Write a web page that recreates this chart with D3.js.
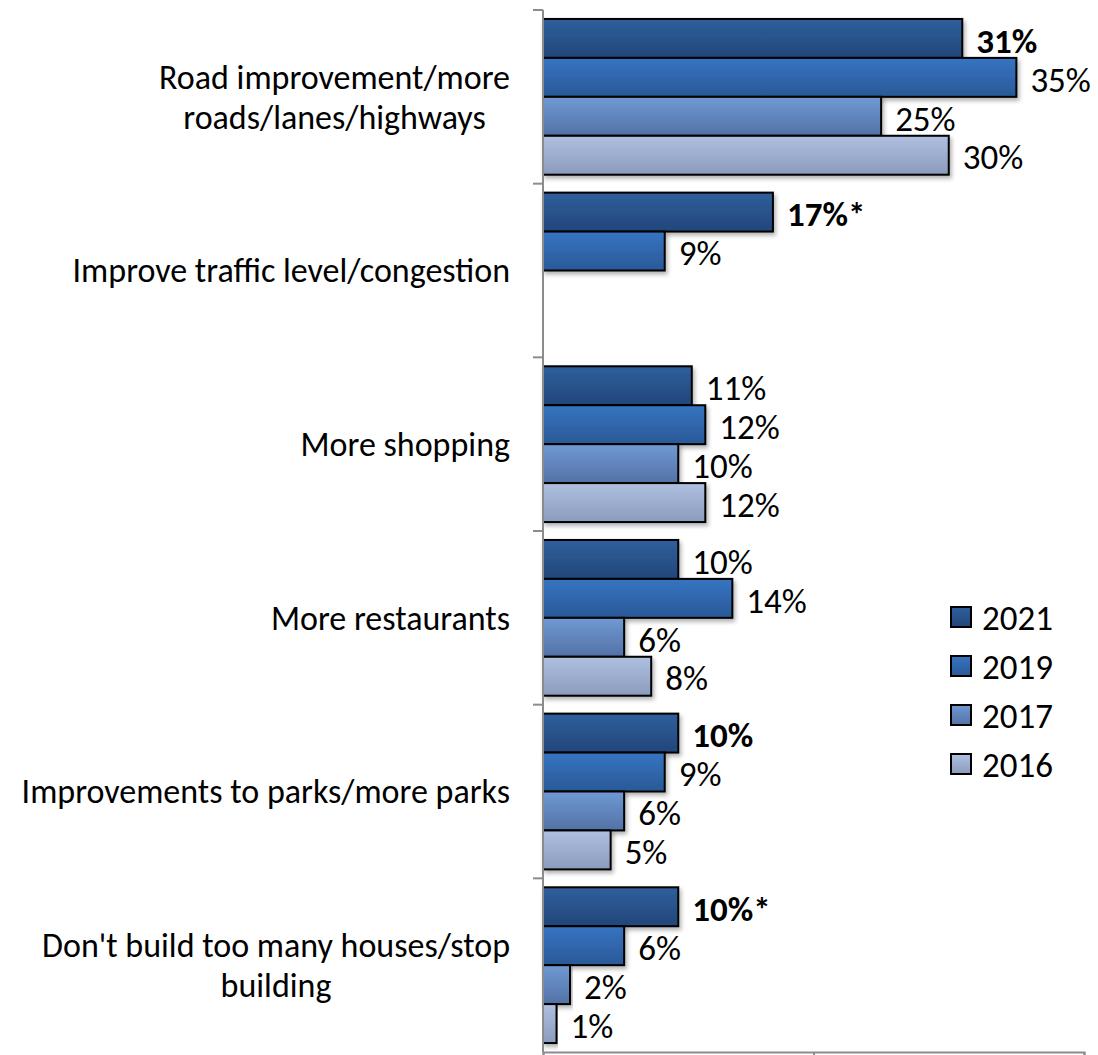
<!DOCTYPE html>
<html>
<head>
<meta charset="utf-8">
<script src="https://cdn.jsdelivr.net/npm/d3@7"></script>
<style>
  body { margin: 0; background: #fff; }
  text { font-family: Calibri, Carlito, Lato, sans-serif; fill: #000; }
</style>
</head>
<body>
<div id="chart"></div>
<script>
const categories = [
  ["Road improvement/more", "roads/lanes/highways"],
  ["Improve traffic level/congestion"],
  ["More shopping"],
  ["More restaurants"],
  ["Improvements to parks/more parks"],
  ["Don't build too many houses/stop", "building"]
];
const series = ["2021", "2019", "2017", "2016"];
const v2021 = [31, 17, 11, 10, 10, 10];
const v2019 = [35, 9, 12, 14, 9, 6];
const v2017 = [25, null, 10, 6, 6, 2];
const v2016 = [30, null, 12, 8, 5, 1];
const labels2021 = ["31%", "17%*", "11%", "10%", "10%", "10%*"];
const bold2021 = [true, true, false, false, true, true];
const xTicks = [0, 20, 40];

const W = 1098, H = 1055;
const margin = {top: 10, left: 543, right: 14, bottom: 3};
const values = [v2021, v2019, v2017, v2016];

// gradient colours per series: top, bottom
const grads = [
  ["#2f5f9c", "#22467a"],
  ["#3674c2", "#2a5997"],
  ["#7099d3", "#5272a6"],
  ["#afc0e0", "#8a9bbb"]
];

const svg = d3.select("#chart").append("svg")
  .attr("width", W).attr("height", H);

const defs = svg.append("defs");
grads.forEach(function(g, i) {
  const lg = defs.append("linearGradient")
    .attr("id", "g" + i)
    .attr("x1", 0).attr("y1", 0).attr("x2", 0).attr("y2", 1);
  lg.append("stop").attr("offset", "0%").attr("stop-color", g[0]);
  lg.append("stop").attr("offset", "100%").attr("stop-color", g[1]);
});
const f = defs.append("filter").attr("id", "shadow")
  .attr("x", "-5%").attr("y", "-20%").attr("width", "115%").attr("height", "160%");
f.append("feDropShadow").attr("dx", 2).attr("dy", 3)
  .attr("stdDeviation", 2).attr("flood-color", "#000").attr("flood-opacity", 0.3);

const x = d3.scaleLinear().domain([0, 40]).range([margin.left, W - margin.right]);
const y = d3.scaleBand().domain(d3.range(categories.length))
  .range([margin.top, H - margin.bottom]);
const y1 = d3.scaleBand().domain(series).range([0, y.bandwidth()]).paddingOuter(0.23);

// bars
series.forEach(function(s, si) {
  values[si].forEach(function(v, ci) {
    if (v == null) return;
    svg.append("rect")
      .attr("x", x(0))
      .attr("y", y(ci) + y1(s))
      .attr("width", x(v) - x(0))
      .attr("height", y1.bandwidth())
      .attr("fill", "url(#g" + si + ")")
      .attr("stroke", "#000")
      .attr("stroke-width", 2)
      .attr("filter", "url(#shadow)");

    const isBold = si == 0 && bold2021[ci];
    svg.append("text")
      .attr("x", x(v) + 14)
      .attr("y", y(ci) + y1(s) + y1.bandwidth() / 2 + 2)
      .attr("dy", "0.35em")
      .style("font-size", "35px")
      .style("font-weight", isBold ? "bold" : "normal")
      .text(si == 0 ? labels2021[ci] : v + "%");
  });
});

// left axis line and ticks at band boundaries
svg.append("line")
  .attr("x1", x(0)).attr("x2", x(0))
  .attr("y1", margin.top).attr("y2", H - margin.bottom)
  .attr("stroke", "#8c8c8c").attr("stroke-width", 2);
d3.range(categories.length).forEach(function(i) {
  svg.append("line")
    .attr("x1", x(0) - 10).attr("x2", x(0))
    .attr("y1", y(i)).attr("y2", y(i))
    .attr("stroke", "#8c8c8c").attr("stroke-width", 2);
});

// bottom axis
const xAxis = svg.append("g")
  .attr("transform", "translate(0," + (H - margin.bottom) + ")")
  .call(d3.axisBottom(x).tickValues(xTicks).tickSize(6).tickFormat(""));
xAxis.select(".domain").attr("stroke", "#8c8c8c").attr("stroke-width", 2);
xAxis.selectAll(".tick line").attr("stroke", "#8c8c8c").attr("stroke-width", 2);

// category labels: block right-aligned, lines centred inside block
categories.forEach(function(lines, ci) {
  const g = svg.append("g");
  const lh = 40;
  const cy = y(ci) + y.bandwidth() / 2;
  const texts = lines.map(function(line, li) {
    return g.append("text")
      .attr("y", cy + (li - (lines.length - 1) / 2) * lh)
      .attr("dy", "0.35em")
      .attr("text-anchor", "middle")
      .style("font-size", "34px")
      .text(line);
  });
  const maxW = d3.max(texts, function(t) { return t.node().getComputedTextLength(); });
  texts.forEach(function(t) { t.attr("x", 510 - maxW / 2); });
});

// legend
const legend = svg.append("g");
series.forEach(function(s, i) {
  const ly = 617 + i * 49;
  legend.append("rect")
    .attr("x", 951).attr("y", ly - 10)
    .attr("width", 20).attr("height", 20)
    .attr("fill", "url(#g" + i + ")")
    .attr("stroke", "#000").attr("stroke-width", 2);
  legend.append("text")
    .attr("x", 982).attr("y", ly + 1)
    .attr("dy", "0.35em")
    .style("font-size", "35px")
    .text(s);
});
</script>
</body>
</html>
